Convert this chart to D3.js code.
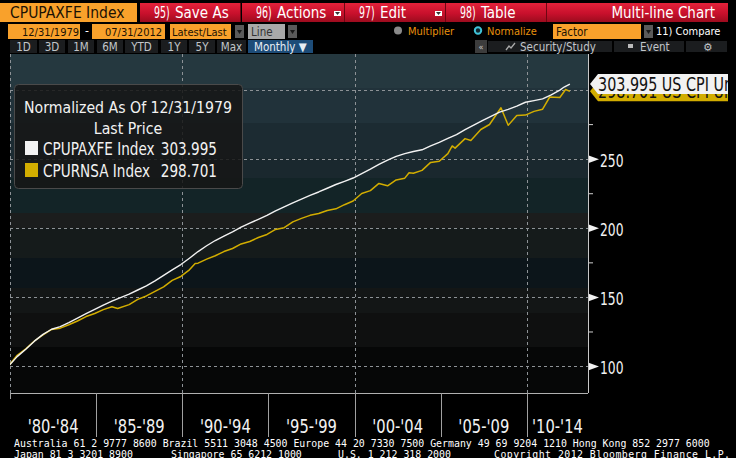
<!DOCTYPE html>
<html>
<head>
<meta charset="utf-8">
<script src="https://cdn.jsdelivr.net/npm/d3@7"></script>
<style>
body { margin: 0; background: #000; overflow: hidden; }
svg { display: block; }
</style>
</head>
<body>
<script>
// CPUPAXFE Index, normalized to 100 at 12/31/1979
var coreDates = ["1979-12","1980-06","1980-12","1981-06","1981-12","1982-06","1982-12","1983-06","1983-12",
  "1984-06","1984-12","1985-06","1985-12","1986-06","1986-12","1987-06","1987-12","1988-06","1988-12",
  "1989-06","1989-12","1990-06","1990-12","1991-06","1991-12","1992-06","1992-12","1993-06","1993-12",
  "1994-06","1994-12","1995-06","1995-12","1996-06","1996-12","1997-06","1997-12","1998-06","1998-12",
  "1999-06","1999-12","2000-06","2000-12","2001-06","2001-12","2002-06","2002-12","2003-06","2003-12",
  "2004-06","2004-12","2005-06","2005-12","2006-06","2006-12","2007-06","2007-12","2008-06","2008-12",
  "2009-06","2009-12","2010-06","2010-12","2011-06","2011-12","2012-03","2012-07"];
var coreValues = [100,106.8,112.2,118.0,122.9,126.6,128.5,131.4,134.6,
  137.9,141.0,144.0,146.9,149.5,152.0,155.0,158.0,161.6,165.6,
  169.6,173.4,178.0,182.8,187.0,190.8,194.0,197.1,200.4,203.4,
  206.1,208.9,212.2,215.2,218.0,220.8,223.4,225.9,228.6,231.3,
  233.6,236.0,239.2,242.4,245.8,249.0,251.6,253.6,255.2,256.4,
  259.3,261.8,264.6,267.4,271.0,274.3,277.5,280.6,283.6,285.6,
  288.0,290.8,292.0,293.2,296.2,299.6,301.8,303.995];

// CPURNSA Index, normalized to 100 at 12/31/1979
var cpiDates = ["1979-12","1980-06","1980-12","1981-06","1981-12","1982-06","1982-12","1983-06","1983-12",
  "1984-06","1984-12","1985-06","1985-12","1986-04","1986-12","1987-06","1987-12","1988-06","1988-12",
  "1989-06","1989-12","1990-06","1990-10","1990-12","1991-06","1991-12","1992-06","1992-12","1993-06",
  "1993-12","1994-06","1994-12","1995-06","1995-12","1996-06","1996-12","1997-06","1997-12","1998-06",
  "1998-12","1999-06","1999-12","2000-06","2000-12","2001-06","2001-12","2002-06","2002-12","2003-03",
  "2003-06","2003-12","2004-06","2004-12","2005-06","2005-09","2005-11","2006-06","2006-10","2007-05",
  "2007-11","2008-07","2008-12","2009-06","2009-12","2010-06","2010-12","2011-05","2011-12","2012-04","2012-07"];
var cpiValues = [100,107.8,112.5,118.1,122.6,126.5,127.4,129.9,132.6,
  135.8,138.0,140.8,142.9,141.6,144.4,148.2,150.7,154.0,157.3,
  162.0,164.8,169.6,174.2,174.4,177.3,179.8,182.8,185.0,188.3,
  190.1,193.0,195.2,198.8,200.1,204.3,206.8,209.0,210.3,212.5,
  213.7,216.7,219.4,224.8,226.9,232.1,230.4,234.6,235.9,239.8,
  239.5,241.5,247.3,248.1,253.6,259.2,257.6,264.5,263.1,271.1,
  274.7,286.8,274.1,281.2,281.5,284.2,285.8,294.6,294.2,300.0,298.701];

var seriesNames = ["CPUPAXFE Index", "CPURNSA Index"];
var lastValues = ["303.995", "298.701"];
var flagLabels = ["303.995 US CPI Ur", "298.701 US CPI Ur"];
var periodStarts = [1980, 1985, 1990, 1995, 2000, 2005, 2010];
var periodLabels = ["'80-'84", "'85-'89", "'90-'94", "'95-'99", "'00-'04", "'05-'09", "'10-'14"];
var gridYears = [1980, 1990, 2000, 2010];
var gridValues = [100, 150, 200, 250, 300];
var yTicks = [100, 150, 200, 250];
var yMinor = [125, 175, 225, 275];

var W = 736, H = 458;
var pLeft = 10, pRight = 588, pTop = 54, pBottom = 393;
var COND = "'DejaVu Sans Condensed','DejaVu Sans',sans-serif";
var ORANGE = "#f9a12b", WHITE = "#f2f2f2", GOLD = "#d2ad00";

var parseMonth = d3.timeParse("%Y-%m");
var yr = function(v) { return new Date(v, 0, 1); };

var x = d3.scaleTime().domain([yr(1980), yr(2015)]).range([pLeft, 613]);
var y = d3.scaleLinear().domain([80.5, 325.7]).range([pBottom, pTop]);

var svg = d3.select("body").append("svg").attr("width", W).attr("height", H);
var defs = svg.append("defs");

// condensed text squeezed horizontally
function ntext(g, tx, ty, str, size, sx, anchor, fill) {
  return g.append("text")
    .attr("transform", "translate(" + tx + "," + ty + ") scale(" + sx + ",1)")
    .attr("text-anchor", anchor || "start")
    .attr("font-family", COND).attr("font-size", size + "px")
    .attr("fill", fill || WHITE).text(str);
}

var redGrad = defs.append("linearGradient").attr("id", "red").attr("x1", 0).attr("y1", 0).attr("x2", 0).attr("y2", 1);
redGrad.append("stop").attr("offset", "0%").attr("stop-color", "#e4223a");
redGrad.append("stop").attr("offset", "55%").attr("stop-color", "#c8102c");
redGrad.append("stop").attr("offset", "100%").attr("stop-color", "#9c0c1e");

defs.append("clipPath").attr("id", "plotclip").append("rect")
  .attr("x", pLeft).attr("y", pTop).attr("width", pRight - pLeft).attr("height", pBottom - pTop);
defs.append("clipPath").attr("id", "flagclip").append("rect")
  .attr("x", 585).attr("y", 60).attr("width", 143).attr("height", 50);

// plot background bands
var bands = [[54,88,"#25383f"],[88,123,"#21323a"],[123,158,"#1c2b32"],[158,178,"#1a282e"],
  [178,213,"#132427"],[213,228,"#1b1d1d"],[228,258,"#151b1b"],[258,288,"#0c151a"],
  [288,313,"#131616"],[313,347,"#0f1010"],[347,393,"#060707"]];
svg.append("g").selectAll("rect").data(bands).enter().append("rect")
  .attr("x", pLeft).attr("width", pRight - pLeft)
  .attr("y", function(d) { return d[0]; })
  .attr("height", function(d) { return d[1] - d[0]; })
  .attr("fill", function(d) { return d[2]; });

// dashed grid
var grid = svg.append("g").attr("stroke", "#8d9296").attr("stroke-width", 1).attr("stroke-dasharray", "3,3");
grid.selectAll("line.h").data(gridValues).enter().append("line").attr("class", "h")
  .attr("x1", pLeft).attr("x2", pRight)
  .attr("y1", function(d) { return Math.round(y(d)) + 0.5; })
  .attr("y2", function(d) { return Math.round(y(d)) + 0.5; });
grid.selectAll("line.v").data(gridYears).enter().append("line").attr("class", "v")
  .attr("y1", pTop).attr("y2", pBottom)
  .attr("x1", function(d) { return Math.round(x(yr(d))) + 0.5; })
  .attr("x2", function(d) { return Math.round(x(yr(d))) + 0.5; });

// series
var coreData = coreDates.map(function(d, i) { return {date: parseMonth(d), value: coreValues[i]}; });
var cpiData = cpiDates.map(function(d, i) { return {date: parseMonth(d), value: cpiValues[i]}; });
var line = d3.line().x(function(d) { return x(d.date); }).y(function(d) { return y(d.value); });

var plot = svg.append("g").attr("clip-path", "url(#plotclip)");
plot.append("path").datum(cpiData).attr("d", line)
  .attr("fill", "none").attr("stroke", GOLD).attr("stroke-width", 1.5).attr("stroke-linejoin", "round");
plot.append("path").datum(coreData).attr("d", line)
  .attr("fill", "none").attr("stroke", WHITE).attr("stroke-width", 1.4).attr("stroke-linejoin", "round");

// legend
var lg = svg.append("g");
lg.append("rect").attr("x", 14.5).attr("y", 84.5).attr("width", 228).attr("height", 104).attr("rx", 4)
  .attr("fill", "rgba(22,22,22,0.86)").attr("stroke", "#4a4a4a");
lg.append("text").attr("x", 128).attr("y", 113).attr("text-anchor", "middle")
  .attr("fill", WHITE).attr("font-family", COND).attr("font-size", "15.7px").text("Normalized As Of 12/31/1979");
lg.append("text").attr("x", 128).attr("y", 134).attr("text-anchor", "middle")
  .attr("fill", WHITE).attr("font-family", COND).attr("font-size", "15.7px").text("Last Price");
[WHITE, GOLD].forEach(function(c, i) {
  var yy = 141 + i * 22;
  lg.append("rect").attr("x", 25).attr("y", yy).attr("width", 13).attr("height", 14).attr("fill", c);
  ntext(lg, 43, yy + 14, seriesNames[i], 18, 0.84);
  ntext(lg, 217, yy + 14, lastValues[i], 18, 0.84, "end");
});

// right axis
var yAxis = d3.axisRight(y).tickValues(yTicks).tickSize(0);
var gy = svg.append("g").attr("transform", "translate(" + pRight + ",0)").call(yAxis);
gy.select(".domain").remove();
gy.selectAll("text").attr("x", 0).attr("dy", "0.42em")
  .attr("transform", "translate(12,0) scale(0.76,1)")
  .attr("fill", WHITE).attr("font-family", COND).attr("font-size", "18px");
gy.selectAll(".tick").append("path").attr("d", "M0,-4L11,0L0,4Z").attr("fill", WHITE);
var gm = svg.append("g").attr("transform", "translate(" + pRight + ",0)")
  .call(d3.axisRight(y).tickValues(yMinor).tickSize(5).tickFormat(""));
gm.select(".domain").remove();
gm.selectAll("line").attr("stroke", "#d0d0d0");
svg.append("line").attr("x1", pRight + 0.5).attr("x2", pRight + 0.5).attr("y1", pTop).attr("y2", pBottom)
  .attr("stroke", "#c8c8c8");

// last-value flags
var flags = svg.append("g").attr("clip-path", "url(#flagclip)");
[1, 0].forEach(function(i) {
  var v = i === 0 ? coreValues[coreValues.length - 1] : cpiValues[cpiValues.length - 1];
  var fg = flags.append("g").attr("transform", "translate(0," + y(v) + ")");
  fg.append("path").attr("d", "M590,0L598,-10L728,-10L728,10L598,10Z").attr("fill", i === 0 ? WHITE : GOLD);
  ntext(fg, 598, 7, flagLabels[i], 19, 0.84, "start", "#111");
});

// bottom axis
var xa = svg.append("g");
xa.append("line").attr("x1", pLeft).attr("x2", pRight).attr("y1", pBottom + 0.5).attr("y2", pBottom + 0.5)
  .attr("stroke", "#b0b0b0");
xa.selectAll("line.sep").data(periodStarts).enter().append("line").attr("class", "sep")
  .attr("x1", function(d) { return Math.round(x(yr(d))) + 0.5; })
  .attr("x2", function(d) { return Math.round(x(yr(d))) + 0.5; })
  .attr("y1", pBottom).attr("y2", function(d, i) { return i === 0 ? pBottom + 6 : 437; })
  .attr("stroke", "#a0a0a0");
periodStarts.forEach(function(d, i) {
  var cx = (x(yr(d)) + Math.min(x(yr(d + 5)), pRight)) / 2;
  ntext(xa, cx, 433, periodLabels[i], 19.5, 0.84, "middle");
});

// footer
var foot = svg.append("g").attr("fill", "#fff").attr("font-family", "'DejaVu Sans Mono',monospace").attr("font-size", "9.9px");
foot.append("text").attr("x", 14).attr("y", 447)
  .text("Australia 61 2 9777 8600 Brazil 5511 3048 4500 Europe 44 20 7330 7500 Germany 49 69 9204 1210 Hong Kong 852 2977 6000");
[["Japan 81 3 3201 8900", 14], ["Singapore 65 6212 1000", 171], ["U.S. 1 212 318 2000", 338]].forEach(function(s) {
  foot.append("text").attr("x", s[1]).attr("y", 458).text(s[0]);
});
foot.append("text").attr("x", 494).attr("y", 458).attr("textLength", 236).attr("lengthAdjust", "spacing")
  .text("Copyright 2012 Bloomberg Finance L.P.");

// toolbar row 1
var tb = svg.append("g");
tb.append("rect").attr("x", 0).attr("y", 3).attr("width", 137).attr("height", 19).attr("fill", ORANGE);
tb.append("text").attr("x", 10).attr("y", 18).attr("fill", "#1c1204").attr("font-family", COND)
  .attr("font-size", "15.5px").text("CPUPAXFE Index");
var redBtns = [[140, 241, "95)", "Save As", false], [242, 345, "96)", "Actions", true],
  [345, 446, "97)", "Edit", true], [446, 547, "98)", "Table", false]];
redBtns.forEach(function(b) {
  tb.append("rect").attr("x", b[0]).attr("y", 3).attr("width", b[1] - b[0]).attr("height", 19).attr("fill", "url(#red)");
  tb.append("line").attr("x1", b[1] - 0.5).attr("x2", b[1] - 0.5).attr("y1", 3).attr("y2", 22).attr("stroke", "#6e0612");
  ntext(tb, b[0] + 14, 18, b[2], 15, 0.7, "start", "#fff");
  tb.append("text").attr("x", b[0] + 35).attr("y", 18).attr("fill", "#fff").attr("font-family", COND)
    .attr("font-size", "15px").text(b[3]);
  if (b[4]) {
    tb.append("rect").attr("x", b[1] - 11).attr("y", 11).attr("width", 7).attr("height", 5).attr("fill", "#fff");
    tb.append("path").attr("d", "M" + (b[1] - 10) + ",12L" + (b[1] - 5) + ",12L" + (b[1] - 7.5) + ",15Z").attr("fill", "#333");
  }
});
tb.append("rect").attr("x", 547).attr("y", 3).attr("width", 181).attr("height", 19).attr("fill", "url(#red)");
tb.append("text").attr("x", 715).attr("y", 18).attr("text-anchor", "end").attr("fill", "#fff")
  .attr("font-family", COND).attr("font-size", "15px").text("Multi-line Chart");

// toolbar row 2
var r2 = [[8, 80, "12/31/1979", 22], [92, 165, "07/31/2012", 105], [170, 231, "Latest/Last", 172]];
r2.forEach(function(b) {
  tb.append("rect").attr("x", b[0]).attr("y", 24).attr("width", b[1] - b[0]).attr("height", 15).attr("fill", ORANGE);
  tb.append("text").attr("x", b[3]).attr("y", 36).attr("fill", "#1c1204").attr("font-family", COND)
    .attr("font-size", "11px").text(b[2]);
});
tb.append("text").attr("x", 85).attr("y", 35).attr("fill", "#fff").attr("font-family", COND).attr("font-size", "12px").text("-");
[[235, 244], [288, 297], [644, 653]].forEach(function(b) {
  tb.append("rect").attr("x", b[0]).attr("y", 25).attr("width", b[1] - b[0]).attr("height", 13).attr("fill", "#5a5a5a");
  tb.append("path").attr("d", "M" + (b[0] + 2) + ",30L" + (b[1] - 2) + ",30L" + ((b[0] + b[1]) / 2) + ",34Z").attr("fill", "#1a1a1a");
});
tb.append("rect").attr("x", 248).attr("y", 24).attr("width", 37).attr("height", 15).attr("fill", "#a9a9a9");
tb.append("text").attr("x", 251).attr("y", 36).attr("fill", "#333").attr("font-family", COND).attr("font-size", "11.5px").text("Line");
tb.append("circle").attr("cx", 398).attr("cy", 30.5).attr("r", 4).attr("fill", "#8a8a8a");
tb.append("text").attr("x", 408).attr("y", 35).attr("fill", "#e8900c").attr("font-family", COND)
  .attr("font-size", "11px").text("Multiplier");
tb.append("circle").attr("cx", 478).attr("cy", 30.5).attr("r", 3.2).attr("fill", "#10222a")
  .attr("stroke", "#3fc3d8").attr("stroke-width", 2);
tb.append("text").attr("x", 487).attr("y", 35).attr("fill", "#e8900c").attr("font-family", COND)
  .attr("font-size", "11px").text("Normalize");
tb.append("rect").attr("x", 553).attr("y", 24).attr("width", 88).attr("height", 15).attr("fill", ORANGE);
tb.append("text").attr("x", 556).attr("y", 36).attr("fill", "#1c1204").attr("font-family", COND).attr("font-size", "11.5px").text("Factor");
tb.append("text").attr("x", 656).attr("y", 35).attr("fill", "#fff").attr("font-family", COND).attr("font-size", "11px").text("11) Compare");

// toolbar row 3
var r3 = [[10, 37, "1D"], [39, 65, "3D"], [68, 94, "1M"], [97, 123, "6M"], [125, 158, "YTD"],
  [161, 187, "1Y"], [189, 215, "5Y"], [217, 246, "Max"]];
r3.forEach(function(b) {
  tb.append("rect").attr("x", b[0]).attr("y", 40).attr("width", b[1] - b[0]).attr("height", 13).attr("fill", "#1b1d1f");
  tb.append("text").attr("x", (b[0] + b[1]) / 2).attr("y", 51).attr("text-anchor", "middle").attr("fill", "#c2c6ca")
    .attr("font-family", COND).attr("font-size", "11.5px").text(b[2]);
});
tb.append("rect").attr("x", 248).attr("y", 40).attr("width", 65).attr("height", 13).attr("fill", "#1d4c78");
tb.append("text").attr("x", 254).attr("y", 51).attr("fill", "#e8eef4").attr("font-family", COND)
  .attr("font-size", "11.5px").text("Monthly \u25BC");
tb.append("rect").attr("x", 475).attr("y", 40).attr("width", 12).attr("height", 13).attr("fill", "#3c3c3c");
tb.append("text").attr("x", 481).attr("y", 50).attr("text-anchor", "middle").attr("fill", "#ccc")
  .attr("font-family", COND).attr("font-size", "9px").text("\u00AB");
[[487, 613, "Security/Study", 520], [613, 685, "Event", 640], [685, 728, "\u2699", 703]].forEach(function(b) {
  tb.append("rect").attr("x", b[0] + 0.5).attr("y", 40.5).attr("width", b[1] - b[0] - 1).attr("height", 12)
    .attr("fill", "#1b1d1f").attr("stroke", "#000");
  tb.append("text").attr("x", b[3]).attr("y", 51).attr("fill", "#c2c6ca").attr("font-family", COND)
    .attr("font-size", "11.5px").text(b[2]);
});
tb.append("path").attr("d", "M506,50L509,46L511,48L515,43").attr("fill", "none").attr("stroke", "#aaa").attr("stroke-width", 1.3);
tb.append("rect").attr("x", 628).attr("y", 44).attr("width", 5).attr("height", 4).attr("fill", "#bbb");
</script>
</body>
</html>
